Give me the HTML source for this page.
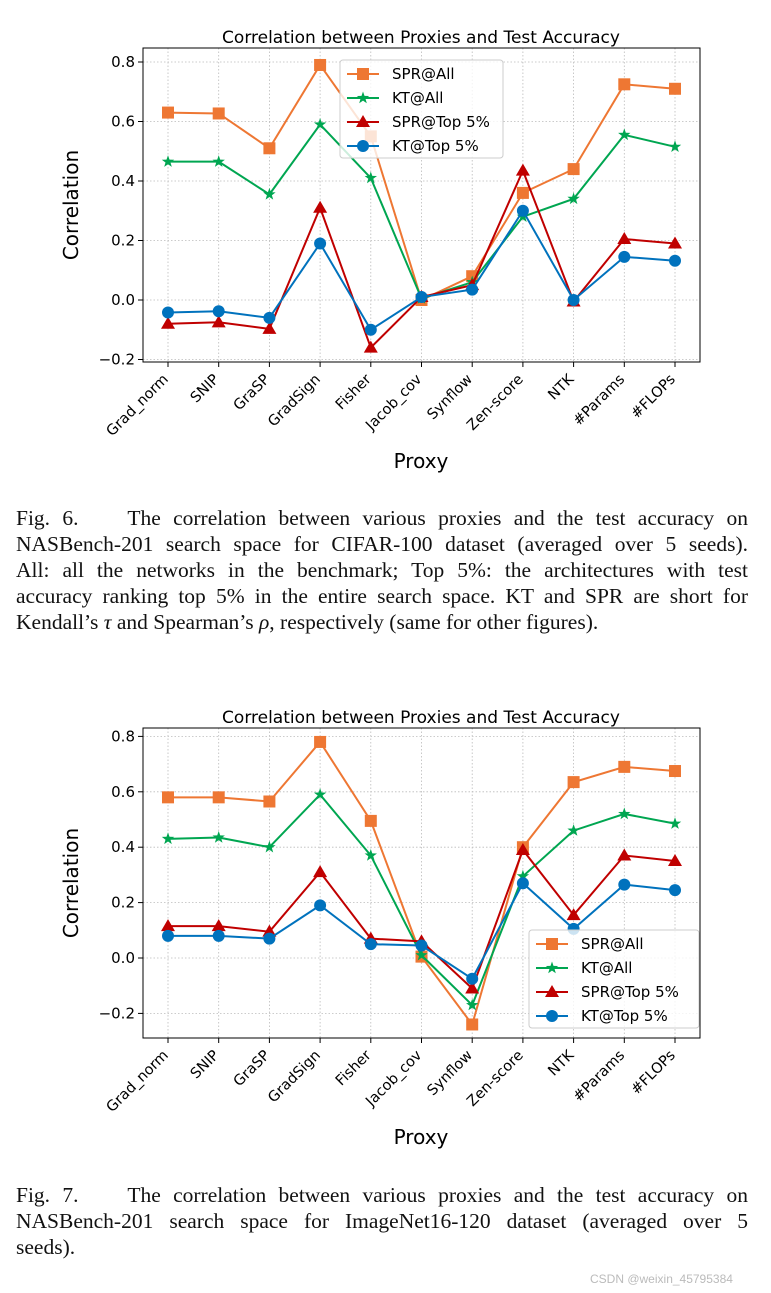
<!DOCTYPE html>
<html><head><meta charset="utf-8">
<style>
body{margin:0;background:#fff;width:771px;height:1293px;overflow:hidden}
svg{display:block}
.cap{position:absolute;left:16px;width:732px;font-family:"Liberation Serif",serif;font-size:21.5px;line-height:26px;color:#111}
.cap div{text-align:justify;text-align-last:justify;white-space:nowrap}
.cap div.last{text-align-last:left}
</style></head>
<body>
<svg id="s" width="771" height="1293"></svg>
<div class="cap" style="top:505px">
<div>Fig. 6.&nbsp;&nbsp;&nbsp; The correlation between various proxies and the test accuracy on</div>
<div>NASBench-201 search space for CIFAR-100 dataset (averaged over 5 seeds).</div>
<div>All: all the networks in the benchmark; Top 5%: the architectures with test</div>
<div>accuracy ranking top 5% in the entire search space. KT and SPR are short for</div>
<div class="last">Kendall’s <i>τ</i> and Spearman’s <i>ρ</i>, respectively (same for other figures).</div>
</div>
<div class="cap" style="top:1182px">
<div>Fig. 7.&nbsp;&nbsp;&nbsp; The correlation between various proxies and the test accuracy on</div>
<div>NASBench-201 search space for ImageNet16-120 dataset (averaged over 5</div>
<div class="last">seeds).</div>
</div>
<div style="position:absolute;left:590px;top:1272px;font-family:'Liberation Sans',sans-serif;font-size:12px;color:#bbb">CSDN @weixin_45795384</div>
<script>
const categories=["Grad_norm","SNIP","GraSP","GradSign","Fisher","Jacob_cov","Synflow","Zen-score","NTK","#Params","#FLOPs"];
const yTicks=[-0.2,0.0,0.2,0.4,0.6,0.8];
const seriesNames=["SPR@All","KT@All","SPR@Top 5%","KT@Top 5%"];
const c1SprAll=[0.63,0.627,0.51,0.79,0.55,0.0,0.08,0.36,0.44,0.725,0.71];
const c1KtAll=[0.465,0.465,0.355,0.59,0.41,0.005,0.06,0.28,0.34,0.555,0.515];
const c1SprTop=[-0.08,-0.075,-0.097,0.31,-0.16,0.01,0.05,0.435,-0.005,0.205,0.19];
const c1KtTop=[-0.042,-0.038,-0.06,0.19,-0.1,0.01,0.035,0.3,0.0,0.145,0.132];
const c2SprAll=[0.58,0.58,0.565,0.78,0.495,0.005,-0.24,0.4,0.635,0.69,0.675];
const c2KtAll=[0.43,0.435,0.40,0.59,0.37,0.01,-0.17,0.295,0.46,0.52,0.485];
const c2SprTop=[0.115,0.115,0.095,0.31,0.07,0.06,-0.11,0.39,0.155,0.37,0.35];
const c2KtTop=[0.08,0.08,0.07,0.19,0.05,0.045,-0.075,0.27,0.105,0.265,0.245];

const NS="http://www.w3.org/2000/svg";
const svg=document.getElementById('s');
const colors=["#EE7733","#00A651","#C00000","#0072BD"];
const markers=["square","star","tri","circle"];
function el(t,a,p){const e=document.createElementNS(NS,t);for(const k in a)e.setAttribute(k,a[k]);(p||svg).appendChild(e);return e;}
function marker(type,x,y,c,g){
  let m;
  if(type==="square")m=el('rect',{x:x-6,y:y-6,width:12,height:12,fill:c},g);
  else if(type==="circle")m=el('circle',{cx:x,cy:y,r:6,fill:c},g);
  else if(type==="tri")m=el('polygon',{points:`${x},${y-7} ${x+7},${y+5} ${x-7},${y+5}`,fill:c},g);
  else{let p=[];for(let i=0;i<10;i++){const r=i%2?2.6:6.5,a=-Math.PI/2+i*Math.PI/5;p.push((x+r*Math.cos(a)).toFixed(1)+","+(y+r*Math.sin(a)).toFixed(1));}
    m=el('polygon',{points:p.join(' '),fill:c},g);}
  return m;
}
function chart(name,top,bot,zeroY,per02,series,legend){
  const L=143,R=700;
  const g=el('g',{});
  
  
  const xs=i=>168+i*50.7;
  const ys=v=>zeroY-v/0.2*per02;
  const f="DejaVu Sans, Liberation Sans, sans-serif";
  yTicks.forEach(t=>{
    const y=ys(t);
    const gl=el('line',{x1:L,x2:R,y1:y,y2:y,stroke:"#bbb","stroke-dasharray":"1.5,2","stroke-width":0.8},g);
    
    
    el('line',{x1:L-5,x2:L,y1:y,y2:y,stroke:"#000"},g);
    const tx=el('text',{x:L-8,y:y+5,"text-anchor":"end","font-family":f,"font-size":15},g);
    tx.textContent=(t<0?"\u2212":"")+Math.abs(t).toFixed(1);
    
    
  });
  categories.forEach((c,i)=>{
    const x=xs(i);
    const gl=el('line',{x1:x,x2:x,y1:top,y2:bot,stroke:"#bbb","stroke-dasharray":"1.5,2","stroke-width":0.8},g);
    
    
    el('line',{x1:x,x2:x,y1:bot,y2:bot+5,stroke:"#000"},g);
    const ax=x+1, ay=bot+18;
    const tx=el('text',{x:ax,y:ay,"text-anchor":"end","font-family":f,"font-size":14.5,transform:`rotate(-45 ${ax} ${ay})`},g);
    tx.textContent=c;
    
    
  });
  series.forEach((s,k)=>{
    const pl=el('polyline',{points:s.map((v,i)=>xs(i)+","+ys(v)).join(' '),fill:"none",stroke:colors[k],"stroke-width":2},g);
    
    
    s.forEach((v,i)=>{const m=marker(markers[k],xs(i),ys(v),colors[k],g);
      
      });
  });
  const frame=el('rect',{x:L,y:top,width:R-L,height:bot-top,fill:"none",stroke:"#000","stroke-width":1},g);
  
  
  const ti=el('text',{x:421,y:top-5,"text-anchor":"middle","font-family":f,"font-size":17},g);
  ti.textContent="Correlation between Proxies and Test Accuracy";
  
  
  const yl=el('text',{x:78,y:(top+bot)/2,"text-anchor":"middle","font-family":f,"font-size":20,transform:`rotate(-90 78 ${(top+bot)/2})`},g);
  yl.textContent="Correlation";
  
  
  const xl=el('text',{x:421,y:bot+106,"text-anchor":"middle","font-family":f,"font-size":20},g);
  xl.textContent="Proxy";
  
  
  const lg=el('g',{},g);
  
  
  el('rect',{x:legend.x,y:legend.y,width:legend.w,height:98,rx:3,fill:"rgba(255,255,255,0.8)",stroke:"#ccc"},lg);
  seriesNames.forEach((n,k)=>{
    const y=legend.y+14+k*24;
    el('line',{x1:legend.x+7,x2:legend.x+39,y1:y,y2:y,stroke:colors[k],"stroke-width":2},lg);
    marker(markers[k],legend.x+23,y,colors[k],lg);
    const t=el('text',{x:legend.x+52,y:y+5,"font-family":f,"font-size":15},lg);
    t.textContent=n;
    
    
  });
}
chart('chart-cifar100',48,362,300,59.5,[c1SprAll,c1KtAll,c1SprTop,c1KtTop],{x:340,y:60,w:163});
chart('chart-imagenet16',728,1038,958,55.4,[c2SprAll,c2KtAll,c2SprTop,c2KtTop],{x:529,y:930,w:170});
</script>
</body></html>
